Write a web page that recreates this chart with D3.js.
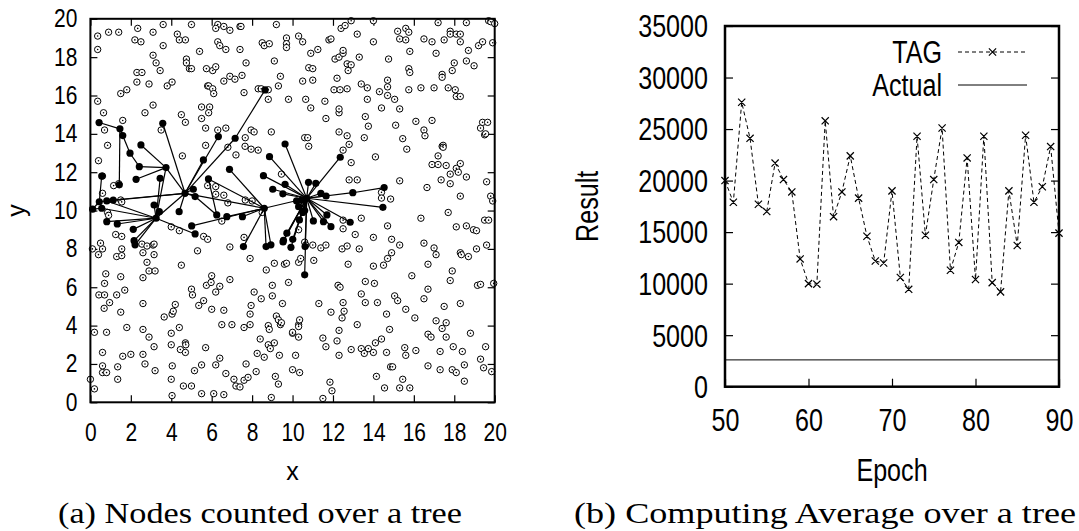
<!DOCTYPE html>
<html><head><meta charset="utf-8">
<script src="https://cdn.jsdelivr.net/npm/d3@7"></script>
<style>
body{margin:0;background:#fff}
svg{display:block}
.lbl{font-family:"Liberation Sans Narrow","Arial Narrow","Liberation Sans",Arial,sans-serif;fill:#000}
.cap{font-family:"Liberation Serif","DejaVu Serif",serif;fill:#000}
</style></head><body>
<svg id="c" width="1079" height="531"></svg>
<script>
// ---------- DATA ----------
// (a) scattered sensor nodes (not in tree)
const otherNodes = [
[0.36,19.1],[0.36,18.4],[0.9,19.3],[1.4,19.3],[2.34,19.5],[2.2,18.9],[2.5,18.8],[3.1,19.3],[3.6,19.7],[4.3,19.2],[4.4,18.9],[4.7,18.9],[5.0,19.7],[6.3,19.7],[6.2,19.5],[6.6,19.6],[6.9,19.4],[7.4,19.6],[7.45,19.6],[6.3,18.8],[6.4,18.6],[6.7,18.4],[7.4,18.4],[8.5,18.75],[8.6,18.6],[8.85,18.7],[9.2,19.7],[9.7,19.0],[9.7,18.7],[9.7,18.5],[10.3,19.1],[10.5,18.8],[11.25,18.4],[11.8,18.9],[11.9,18.95],[12.4,19.5],[12.6,19.65],[12.9,19.9],[13.2,19.2],[14.0,19.9],[14.0,18.8],[15.2,19.35],[15.3,18.95],[15.6,19.5],[15.75,19.3],[15.6,18.9],[16.5,18.95],[16.9,18.8],[17.2,19.8],[17.1,18.2],[17.5,18.9],[17.8,19.35],[17.8,19.2],[18.1,19.2],[18.3,19.2],[18.3,18.8],[18.6,19.8],[19.2,18.6],[19.4,18.8],[19.7,19.9],[19.8,19.85],[20,19.75],[19.9,18.75],
[3.1,18.1],[3.25,17.7],[3.45,17.3],[3.6,18.6],[2.3,17.2],[2.55,17.2],[2.3,16.7],[2.9,16.6],[1.5,16.1],[1.8,16.3],[0.36,15.7],[0.65,15.1],[3.8,16.5],[4.04,16.7],[4.75,17.9],[4.75,17.7],[4.9,17.4],[5.0,17.4],[5.4,18.3],[5.74,17.4],[6.05,17.3],[6.2,17.5],[5.8,16.5],[5.85,16.5],[6.05,16.35],[6.1,16.1],[6.6,16.75],[6.9,17.0],[7.15,16.85],[7.5,17.05],[7.7,17.7],[7.6,16.15],[8.3,16.35],[8.45,16.35],[8.8,16.3],[8.8,15.8],[9.1,17.8],[9.4,17.0],[9.3,16.5],[9.8,15.8],[10.5,16.75],[10.65,15.8],[10.8,17.45],[11.0,17.4],[11.0,16.8],[10.9,18.2],[11.6,15.7],[12.1,17.9],[12.3,18.0],[12.5,18.2],[12.5,18.35],[12.2,16.9],[12.05,16.3],[12.35,16.3],[12.7,16.35],[12.7,17.65],[12.9,17.6],[12.75,17.3],[13.3,18.0],[13.4,16.6],[13.7,16.4],[13.7,15.8],[14.3,16.2],[14.7,16.8],[14.7,16.45],[14.7,16.0],[14.75,17.9],[15.05,15.8],[14.4,15.35],[15.75,17.4],[15.8,17.2],[15.75,16.3],[15.8,18.3],[16.35,16.4],[17.0,16.4],[17.4,17.1],[17.4,16.95],[17.7,16.4],[17.9,17.3],[18.0,17.7],[18.05,16.3],[18.1,15.95],[18.3,15.95],[18.6,17.8],[18.7,18.35],[18.98,17.55],
[0.7,14.2],[0.85,13.4],[1.6,14.7],[2.7,15.1],[3.1,15.5],[3.5,14.2],[4.5,15.0],[4.7,14.6],[5.5,15.4],[5.5,14.8],[5.7,14.3],[5.9,15.4],[5.85,15.1],[6.3,14.2],[6.7,14.3],[7.66,13.8],[7.65,13.35],[7.95,14.2],[8.1,14.1],[7.95,13.2],[8.3,13.15],[8.95,14.1],[10.6,13.8],[10.75,13.8],[10.8,13.35],[10.9,15.35],[11.65,14.8],[12.3,15.1],[12.3,15.3],[12.3,14.1],[12.7,13.9],[12.8,13.45],[12.5,13.15],[13.6,14.9],[13.75,14.4],[13.55,13.8],[15.1,14.45],[15.3,15.3],[15.45,13.75],[15.65,13.2],[16.1,14.65],[16.5,14.2],[16.55,13.9],[16.9,14.7],[17.4,13.35],[17.45,13.4],[19.3,14.3],[19.4,14.6],[19.65,14.6],[19.5,13.95],[19.55,14.0],
[0.4,12.6],[0.6,11.8],[1.15,11.3],[1.4,11.4],[4.55,12.85],[5.7,13.4],[6.8,13.3],[7.2,12.9],[9.45,11.9],[12.9,12.5],[12.8,11.6],[13.2,11.6],[14.1,12.8],[15.3,11.55],[16.65,11.2],[16.9,12.4],[17.2,12.4],[17.2,12.85],[17.45,13.3],[17.35,11.6],[17.6,12.35],[17.8,11.9],[17.8,11.4],[18.1,12.2],[18.2,12.0],[18.3,12.45],[18.6,11.75],[19.6,11.5],
[0.6,10.9],[0.85,9.9],[0.9,9.75],[1.5,10.55],[1.55,10.45],[5.8,11.3],[6.2,11.25],[6.2,10.85],[6.6,10.8],[6.8,10.4],[6.5,9.45],[7.66,10.55],[8.0,10.5],[8.5,9.9],[10.3,9.0],[12.5,9.5],[14.4,10.95],[14.4,10.65],[14.85,10.6],[14.7,9.2],[13.4,9.6],[16.35,9.6],[17.7,9.9],[18.3,10.75],[18.1,9.15],[18.6,9.2],[18.95,9.0],[19.1,8.95],[19.5,9.5],[19.7,9.5],[19.8,10.75],[19.9,10.5],
[0.1,8.0],[0.4,7.7],[0.6,8.0],[0.5,8.3],[1.25,8.75],[1.55,8.65],[1.55,8.0],[1.3,7.6],[1.55,7.65],[2.55,8.25],[2.6,7.8],[2.8,8.15],[3.1,8.2],[3.15,8.25],[2.8,7.3],[3.15,7.7],[2.9,6.85],[3.2,6.85],[2.6,6.5],[4.0,9.15],[4.4,8.95],[4.5,7.15],[5.3,7.9],[5.6,8.65],[5.8,8.5],[6.9,8.1],[7.6,8.6],[7.9,7.5],[8.7,6.9],[9.1,7.25],[9.6,7.2],[9.7,7.25],[10.3,7.3],[10.4,7.5],[10.6,8.35],[10.65,8.2],[11.05,7.4],[11.0,8.2],[11.4,8.05],[11.65,8.2],[12.45,8.0],[12.7,8.15],[12.75,7.2],[12.5,9.05],[13.1,8.75],[13.3,8.0],[14.0,8.6],[14.0,7.1],[14.5,7.15],[14.7,7.5],[14.9,7.8],[14.9,8.5],[15.3,8.2],[15.9,6.6],[16.5,8.3],[17.0,8.05],[17.1,7.7],[16.7,7.2],[17.9,6.85],[17.8,6.35],[18.3,7.8],[18.35,7.7],[18.7,7.6],[19.1,8.0],[19.6,8.2],
[0.76,6.7],[0.7,6.2],[0.42,5.6],[0.7,5.6],[0.68,4.9],[0.95,5.2],[1.3,5.6],[1.5,6.55],[1.7,5.85],[1.5,4.7],[2.6,5.15],[3.65,4.45],[4.04,4.6],[4.1,4.75],[4.2,5.1],[5.0,5.9],[5.05,5.6],[5.36,5.05],[5.6,5.3],[5.74,6.1],[5.97,6.25],[6.0,6.6],[6.0,4.85],[6.2,5.75],[6.4,6.05],[6.6,4.8],[6.9,6.4],[7.0,4.05],[6.5,4.05],[7.6,3.9],[7.9,4.05],[7.9,4.6],[7.95,5.05],[8.1,5.75],[8.45,5.4],[8.8,4.0],[9.0,6.1],[9.0,5.55],[9.2,4.5],[9.3,4.3],[9.4,4.05],[9.45,4.15],[9.5,5.15],[9.8,6.25],[10.0,3.6],[10.3,4.05],[10.35,4.3],[11.3,5.15],[11.9,4.7],[12.25,6.1],[12.35,6.0],[12.5,5.2],[12.55,4.75],[12.45,4.4],[13.2,4.05],[13.4,5.65],[13.6,5.2],[13.6,6.3],[14.05,6.2],[14.2,5.2],[14.65,4.6],[15.05,5.55],[15.2,5.3],[15.6,4.85],[16.05,4.4],[16.5,5.4],[16.7,5.9],[17.1,4.25],[17.5,5.0],[17.6,4.15],[17.4,3.85],[18.3,5.15],[19.15,6.1],[19.3,6.15],[19.95,6.2],
[0.2,3.65],[0.8,3.65],[0.6,2.6],[0.6,1.9],[0.6,1.55],[0.8,1.55],[0,1.2],[0.2,0.7],[1.35,1.85],[1.35,1.2],[1.6,2.4],[2.0,2.5],[1.8,3.9],[2.6,3.8],[2.9,3.4],[3.15,2.9],[2.6,2.5],[2.7,2.0],[3.2,1.65],[4.0,3.6],[4.0,3.0],[4.4,3.9],[4.05,1.9],[4.0,1.2],[4.04,0.35],[4.45,2.75],[4.7,3.1],[4.72,3.0],[4.7,2.6],[4.6,0.85],[5.0,0.85],[5.15,1.65],[5.5,1.95],[5.5,0.45],[5.7,2.85],[6.1,0.45],[6.2,1.95],[6.4,2.3],[6.6,0.4],[6.7,1.5],[7.1,1.2],[7.2,0.85],[7.4,0.8],[7.6,1.15],[7.8,1.3],[7.7,2.0],[8.2,1.6],[8.25,2.55],[8.4,3.3],[8.6,2.35],[8.85,3.8],[8.8,3.0],[8.9,2.8],[9.1,3.1],[9.35,2.45],[9.15,1.35],[9.3,0.95],[8.95,0.25],[10.0,1.7],[10.35,1.55],[10.15,2.45],[10.0,3.65],[10.3,3.4],[10.3,3.95],[11.5,0.2],[11.85,1.05],[11.95,0.6],[11.5,3.35],[11.65,2.9],[12.2,3.2],[12.3,3.75],[12.3,2.45],[12.9,2.75],[13.4,2.8],[13.55,2.55],[13.75,2.8],[14.0,2.6],[14.1,3.1],[14.4,3.3],[14.15,1.35],[14.65,2.6],[14.8,3.8],[14.55,0.75],[14.85,1.85],[14.95,1.85],[15.3,0.75],[15.45,1.2],[15.55,2.85],[15.6,2.45],[15.8,0.75],[16.1,2.7],[16.7,1.9],[16.7,3.55],[16.85,3.4],[17.3,1.7],[17.3,2.65],[17.6,3.4],[17.95,2.9],[17.9,1.7],[18.1,1.55],[18.4,2.65],[18.5,1.95],[18.5,1.1],[18.8,3.6],[19.3,2.25],[19.45,1.8],[19.55,2.9],[19.85,1.6]
];
// (a) nodes counted over the tree
const treeNodes = [
[0.11,10.07],[0.44,10.46],[0.56,11.8],[0.56,10.12],[3.25,9.6],[4.68,10.9],[8.6,10.12],[10.7,10.64],
[0.43,14.59],[1.46,14.26],[1.43,11.34],[1.6,13.91],[1.96,12.99],[2.42,12.29],[3.74,12.24],[2.5,13.42],
[2.26,11.63],[3.45,11.68],[3.58,14.55],[0.81,10.5],[1.13,10.55],[0.81,9.42],[1.33,9.3],[2.12,9.02],
[2.16,8.43],[2.21,8.21],[3.15,10.29],[3.41,9.94],[4.39,9.94],[5.09,11.11],[5.18,10.73],[5.59,12.64],
[6.33,13.86],[7.16,13.77],[8.64,16.29],[5.84,11.65],[6.25,9.77],[6.75,9.68],[7.52,9.68],[5.01,9.2],
[5.18,8.78],[6.88,12.15],[7.57,8.12],[8.69,8.12],[8.93,8.21],
[8.86,12.81],[9.63,13.47],[8.56,11.82],[9.02,11.11],[9.52,10.87],[9.63,11.37],[10.79,11.47],[11.15,11.42],
[11.4,10.9],[11.66,10.76],[12.98,10.93],[14.53,11.2],[14.47,10.17],[12.36,12.78],[11.7,9.77],[11.53,9.42],
[11.9,9.16],[11.03,9.46],[12.85,9.39],[10.34,9.51],[9.72,8.82],[10.01,8.5],[9.53,8.36],[9.92,8.08],
[10.62,8.12],[10.6,6.65],[10.3,10.2],[10.5,9.9],[10.45,10.55],[10.2,10.5],[9.55,8.45],[10.6,10.0]
];
const treeEdges = [
[1,0],[2,1],[3,0],[3,4],[4,5],[5,6],[6,7],
[8,9],[10,9],[9,11],[11,12],[12,13],[13,14],[15,14],[16,14],[14,4],[14,5],[18,5],[17,4],
[1,5],[20,5],[19,4],[21,4],[22,4],[23,4],[24,4],[25,4],[26,4],[27,4],[40,4],
[28,5],[29,5],[30,5],[31,5],[32,5],[33,5],[34,33],[36,30],
[35,6],[35,36],[37,6],[38,6],[39,6],[41,6],[42,6],[43,6],[44,6],
[45,7],[46,7],[47,7],[48,7],[49,7],[50,7],[51,7],[52,7],[53,7],[54,7],[55,7],[56,55],[57,7],[58,7],
[59,7],[60,7],[61,7],[62,7],[63,7],[64,7],[65,7],[66,7],[67,7],[68,7],[69,7],[70,7],[71,7],[72,7],
[73,7],[74,7],[75,7],[76,7]
];
const axisTicksA = [0,2,4,6,8,10,12,14,16,18,20];

// (b) computing average
const epochs = d3.range(50, 91);
const tagValues = [20000,17900,27600,24100,17700,17000,21700,20100,18900,12400,
  10000,9950,25800,16500,18900,22400,18300,14600,12200,12000,
  19000,10600,9450,24300,14700,20100,25100,11300,14000,22200,
  10400,24300,10100,9200,19000,13700,24400,17900,19400,23300,14900];
const actualValue = 2600;
const epochTicks = [50,60,70,80,90];
const resultTicks = [0,5000,10000,15000,20000,25000,30000,35000];
const seriesNames = ["TAG","Actual"];
const captions = ["(a) Nodes counted over a tree","(b) Computing Average over a tree"];

// ---------- DRAW ----------
const svg = d3.select("#c");

// squeeze a sans font horizontally to mimic the condensed face of the original
function narrow(sel, k){
  sel.each(function(){
    const L = this.getComputedTextLength();
    d3.select(this).attr("textLength", L*k).attr("lengthAdjust","spacingAndGlyphs");
  });
}

// ===== Panel (a) =====
const xA = d3.scaleLinear().domain([0,20]).range([90.4,494.7]);
const yA = d3.scaleLinear().domain([0,20]).range([402.3,18.8]);
const gA = svg.append("g");

function styleAxis(g){
  g.select(".domain").remove();
  g.selectAll(".tick line").attr("stroke","#000").attr("stroke-width",1.2);
  g.selectAll("text").attr("class","lbl").attr("fill","#000");
}
gA.append("g").attr("transform",`translate(0,${yA(0)})`)
  .call(d3.axisBottom(xA).tickValues(axisTicksA).tickSizeInner(-7).tickSizeOuter(0).tickPadding(21))
  .call(styleAxis).selectAll("text").style("font-size","25px").call(narrow,0.84);
gA.append("g").attr("transform",`translate(0,${yA(20)})`)
  .call(d3.axisTop(xA).tickValues(axisTicksA).tickSizeInner(-7).tickSizeOuter(0).tickFormat(""))
  .call(styleAxis);
gA.append("g").attr("transform",`translate(${xA(0)},0)`)
  .call(d3.axisLeft(yA).tickValues(axisTicksA).tickSizeInner(-7).tickSizeOuter(0).tickPadding(13))
  .call(styleAxis).selectAll("text").style("font-size","25px").call(narrow,0.84);
gA.append("g").attr("transform",`translate(${xA(20)},0)`)
  .call(d3.axisRight(yA).tickValues(axisTicksA).tickSizeInner(-7).tickSizeOuter(0).tickFormat(""))
  .call(styleAxis);

// open nodes
const on = gA.append("g");
on.selectAll("circle.o").data(otherNodes).join("circle").attr("class","o")
  .attr("cx",d=>xA(d[0])).attr("cy",d=>yA(d[1])).attr("r",3.2)
  .attr("fill","#fff").attr("stroke","#000").attr("stroke-width",1);
on.selectAll("circle.d").data(otherNodes).join("circle").attr("class","d")
  .attr("cx",d=>xA(d[0])).attr("cy",d=>yA(d[1])).attr("r",0.8).attr("fill","#000");

// tree edges and nodes
gA.append("g").selectAll("line").data(treeEdges).join("line")
  .attr("x1",d=>xA(treeNodes[d[0]][0])).attr("y1",d=>yA(treeNodes[d[0]][1]))
  .attr("x2",d=>xA(treeNodes[d[1]][0])).attr("y2",d=>yA(treeNodes[d[1]][1]))
  .attr("stroke","#000").attr("stroke-width",1.2);
gA.append("g").selectAll("circle").data(treeNodes).join("circle")
  .attr("cx",d=>xA(d[0])).attr("cy",d=>yA(d[1])).attr("r",3.6).attr("fill","#000");

gA.append("rect").attr("x",xA(0)).attr("y",yA(20)).attr("width",xA(20)-xA(0)).attr("height",yA(0)-yA(20))
  .attr("fill","none").attr("stroke","#000").attr("stroke-width",2);

gA.append("text").attr("class","lbl").attr("x",(xA(0)+xA(20))/2).attr("y",480)
  .attr("text-anchor","middle").style("font-size","25px").text("x");
gA.append("text").attr("class","lbl").attr("transform",`translate(25,${(yA(0)+yA(20))/2}) rotate(-90)`)
  .attr("text-anchor","middle").style("font-size","25px").text("y");

// ===== Panel (b) =====
const xB = d3.scaleLinear().domain([50,90]).range([725,1059]);
const yB = d3.scaleLinear().domain([0,35000]).range([386.7,26]);
const gB = svg.append("g");
gB.append("g").attr("transform",`translate(0,${yB(0)})`)
  .call(d3.axisBottom(xB).tickValues(epochTicks).tickSizeInner(-8).tickSizeOuter(0).tickPadding(22))
  .call(styleAxis).selectAll("text").style("font-size","31px").call(narrow,0.81);
gB.append("g").attr("transform",`translate(${xB(50)},0)`)
  .call(d3.axisLeft(yB).tickValues(resultTicks).tickFormat(d3.format("d")).tickSizeInner(-8).tickSizeOuter(0).tickPadding(17))
  .call(styleAxis).selectAll("text").style("font-size","31px").attr("dy","0.35em").call(narrow,0.81);
gB.append("g").attr("transform",`translate(${xB(90)},0)`)
  .call(d3.axisRight(yB).tickValues(resultTicks).tickSizeInner(-8).tickSizeOuter(0).tickFormat(""))
  .call(styleAxis);

// Actual line
gB.append("line").attr("x1",xB(50)).attr("x2",xB(90)).attr("y1",yB(actualValue)).attr("y2",yB(actualValue))
  .attr("stroke","#000").attr("stroke-width",1);
// TAG dashed line
const line = d3.line().x((d,i)=>xB(epochs[i])).y(d=>yB(d));
gB.append("path").datum(tagValues).attr("d",line).attr("fill","none")
  .attr("stroke","#000").attr("stroke-width",1).attr("stroke-dasharray","4,3");
const cross = (cx,cy,s)=>`M${cx-s},${cy-s}L${cx+s},${cy+s}M${cx-s},${cy+s}L${cx+s},${cy-s}`;
gB.append("path").attr("d",tagValues.map((v,i)=>cross(xB(epochs[i]),yB(v),3.6)).join(""))
  .attr("stroke","#000").attr("stroke-width",1.2).attr("fill","none");

gB.append("rect").attr("x",xB(50)).attr("y",yB(35000)).attr("width",xB(90)-xB(50)).attr("height",yB(0)-yB(35000))
  .attr("fill","none").attr("stroke","#000").attr("stroke-width",2.5);

// legend
const lg = gB.append("g");
const legY = [52, 85];
lg.selectAll("text").data(seriesNames).join("text").attr("class","lbl")
  .attr("x",942).attr("y",(d,i)=>legY[i]).attr("dy","0.35em").attr("text-anchor","end")
  .style("font-size","31px").text(d=>d).call(narrow,0.81);
lg.append("line").attr("x1",958).attr("x2",1027).attr("y1",legY[0]).attr("y2",legY[0])
  .attr("stroke","#000").attr("stroke-width",1).attr("stroke-dasharray","4,3");
lg.append("path").attr("d",cross(992.5,legY[0],3.6)).attr("stroke","#000").attr("stroke-width",1.2);
lg.append("line").attr("x1",958).attr("x2",1027).attr("y1",legY[1]).attr("y2",legY[1])
  .attr("stroke","#000").attr("stroke-width",1);

gB.append("text").attr("class","lbl").attr("x",(xB(50)+xB(90))/2).attr("y",481)
  .attr("text-anchor","middle").style("font-size","31px").text("Epoch").call(narrow,0.81);
gB.append("text").attr("class","lbl").attr("transform",`translate(598,${(yB(0)+yB(35000))/2}) rotate(-90)`)
  .attr("text-anchor","middle").style("font-size","31px").text("Result").call(narrow,0.81);

// captions
const capPos = [[58,462],[574,1076]];
svg.selectAll("text.cap").data(captions).join("text").attr("class","cap")
  .attr("x",(d,i)=>capPos[i][0]).attr("y",523)
  .attr("textLength",(d,i)=>capPos[i][1]-capPos[i][0]).attr("lengthAdjust","spacingAndGlyphs")
  .style("font-size","29px").text(d=>d);
</script>
</body></html>
